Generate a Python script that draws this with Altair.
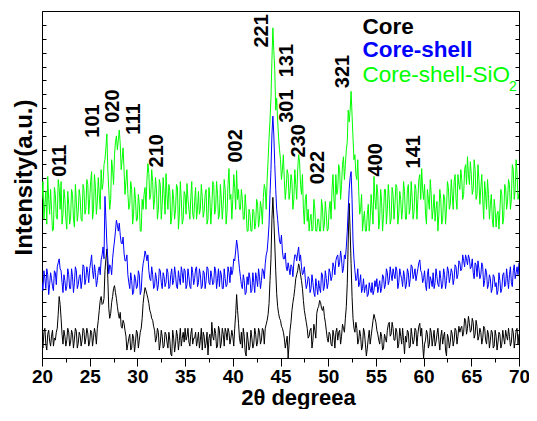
import altair as alt
import pandas as pd

# Intensities (a.u.) read at 20.0, 20.2, ... 70.0 deg 2-theta (one row per degree)
core = [
    18, 26, 14, 24, 17,   22, 12, 18, 30, 62,   40, 14, 22, 18, 26,   16, 24, 19, 27, 15,
    23, 18, 28, 20, 25,   16, 26, 21, 24, 30,   48, 62, 55, 88, 110,  50, 45, 62, 73, 60,
    45, 46, 30, 35, 22,   14, 24, 10, 20, 16,   25, 18, 30, 55, 71,   64, 55, 45, 38, 28,
    20, 26, 15, 22, 12,   24, 10, 18, 2, 20,    14, 22, 18, 12, 26,   30, 22, 16, 24, 14,
    20, 12, 26, 18, 8,    22, 15, 3, 24, 36,    18, 25, 12, 28, 16,   24, 30, 18, 26, 20,
    22, 30, 64, 35, 14,   10, 22, 2, 18, 12,    20, 14, 24, 16, 26,   18, 28, 30, 38, 55,
    100, 162, 115, 65, 45, 38, 30, 20, 16, 0,   28, 48, 62, 80, 88,   91, 78, 58, 42, 30,
    22, 30, 18, 28, 45,   52, 56, 48, 42, 28,   16, 24, 12, 22, 26,   18, 28, 22, 30, 40,
    75, 156, 95, 40, 26,  30, 18, 22, 12, 26,   2, 20, 14, 30, 44,    36, 24, 14, 22, 10,
    20, 28, 36, 24, 30,   18, 26, 14, 22, 30,   4, 16, 26, 12, 22,    18, 28, 24, 35, 30,
    0, 18, 24, 14, 26,    20, 12, 24, 18, 22,   14, 26, 2, 20, 16,    24, 18, 28, 22, 26,
    32, 26, 38, 30, 35,   28, 36, 24, 32, 22,   26, 20, 30, 14, 24,   18, 26, 12, 22, 16,
    24, 14, 20, 28, 18,   22, 16, 26, 18, 30,   24,
]
# Intensities read at 20.1, 20.3, ... 69.9 deg
core_mid = [
    10, 30, 8, 28, 12,    28, 20, 26, 44, 54,   24, 28, 12, 30, 12,   28, 10, 30, 10, 26,
    12, 30, 14, 30, 12,   28, 12, 30, 14, 38,   58, 54, 60, 100, 80,  40, 56, 70, 66, 52,
    40, 32, 38, 28, 8,    20, 8, 24, 6, 28,     10, 26, 40, 64, 68,   60, 48, 40, 32, 16,
    30, 8, 28, 10, 26,    16, 26, 4, 28, 6,     28, 8, 30, 20, 16,    18, 30, 12, 30, 20,
    26, 18, 10, 30, 26,   10, 26, 20, 12, 22,   30, 10, 32, 10, 30,   12, 26, 30, 14, 28,
    12, 44, 48, 20, 26,   30, 6, 26, 8, 28,     10, 30, 12, 30, 14,   30, 14, 34, 44, 78,
    140, 140, 88, 52, 40, 32, 26, 10, 22, 14,   36, 56, 70, 84, 95,   84, 70, 48, 36, 20,
    28, 10, 34, 20, 50,   58, 50, 52, 36, 20,   26, 14, 28, 10, 30,   26, 14, 34, 26, 52,
    118, 128, 62, 30, 36, 14, 28, 8, 30, 14,    10, 28, 22, 38, 40,   28, 18, 26, 8, 24,
    16, 34, 22, 36, 18,   30, 10, 30, 14, 18,   22, 28, 10, 30, 14,   30, 12, 32, 22, 14,
    14, 28, 10, 30, 12,   28, 16, 30, 8, 28,    22, 8, 24, 10, 28,    12, 30, 14, 32, 30,
    22, 40, 24, 42, 26,   40, 20, 38, 18, 30,   14, 32, 18, 28, 10,   28, 10, 28, 8, 26,
    10, 28, 14, 22, 30,   12, 30, 10, 28, 14,
]
core_shell = [
    76, 88, 70, 84, 74,   80, 68, 86, 92, 100,  88, 66, 78, 72, 84,   70, 82, 76, 88, 74,
    84, 78, 92, 80, 86,   90, 104, 80, 86, 78,  92, 99, 112, 163, 115, 85, 92, 100, 118, 139,
    128, 124, 115, 106, 98, 84, 70, 78, 66, 80, 72, 84, 68, 95, 108,  98, 88, 78, 84, 72,
    80, 74, 88, 70, 82,   76, 86, 72, 90, 78,   84, 70, 80, 92, 76,   88, 74, 82, 70, 86,
    80, 92, 76, 84, 72,   86, 78, 90, 74, 82,   76, 88, 80, 72, 84,   70, 80, 74, 86, 92,
    88, 98, 119, 100, 82, 70, 78, 66, 74, 80,   68, 76, 86, 72, 82,   78, 88, 95, 108, 135,
    190, 244, 195, 150, 128, 115, 108, 100, 92, 96, 84, 92, 96, 104, 106, 98, 92, 86, 80, 74,
    80, 70, 76, 62, 72,   78, 66, 84, 72, 80,   76, 86, 82, 92, 98,   104, 96, 100, 90, 100,
    128, 170, 188, 118, 88, 80, 72, 84, 70, 66, 74, 64, 70, 76, 68,   72, 66, 78, 70, 82,
    74, 86, 78, 84, 90,   80, 88, 76, 84, 72,   82, 74, 86, 80, 92,   84, 78, 90, 99, 86,
    80, 74, 84, 70, 78,   86, 76, 82, 72, 80,   74, 84, 78, 88, 82,   86, 80, 92, 84, 96,
    90, 98, 104, 94, 100, 92, 86, 96, 82, 90,   84, 92, 78, 86, 74,   80, 70, 82, 76, 68,
    78, 70, 86, 74, 80,   84, 76, 88, 80, 92,   96,
]
core_shell_mid = [
    68, 80, 90, 64, 86,   72, 88, 74, 96, 90,   76, 84, 68, 90, 70,   90, 66, 92, 70, 82,
    70, 94, 74, 92, 76,   96, 88, 94, 72, 88,   84, 104, 100, 140, 100, 94, 84, 110, 128, 134,
    136, 116, 122, 98, 104, 76, 86, 64, 84, 70, 88, 64, 86, 100, 104, 104, 80, 92, 70, 86,
    68, 90, 76, 86, 72,   90, 70, 84, 74, 92,   72, 88, 74, 86, 90,   70, 90, 72, 92, 74,
    90, 72, 90, 70, 88,   70, 92, 76, 88, 74,   92, 70, 90, 88, 70,   90, 72, 92, 76, 84,
    100, 108, 112, 90, 74, 84, 64, 82, 86, 66,  86, 66, 80, 90, 70,   90, 80, 104, 120, 165,
    225, 225, 170, 140, 118, 124, 100, 106, 88, 90, 94, 82, 104, 98, 112, 104, 84, 92, 70, 82,
    66, 84, 66, 80, 64,   70, 86, 68, 88, 70,   90, 78, 96, 84, 102,  92, 108, 86, 104, 112,
    150, 182, 160, 100, 78, 90, 76, 66, 80, 72, 62, 76, 66, 64, 78,   80, 72, 66, 84, 70,
    90, 74, 92, 78, 84,   92, 70, 90, 80, 88,   70, 90, 72, 94, 80,   90, 84, 96, 88, 76,
    88, 68, 90, 82, 72,   70, 90, 74, 88, 70,   90, 70, 92, 76, 90,   74, 94, 80, 98, 88,
    104, 92, 100, 104, 90, 100, 80, 94, 98, 80, 96, 72, 90, 70, 84,   66, 84, 72, 64, 86,
    66, 84, 72, 90, 70,   92, 72, 94, 86, 84,
]
core_shell_sio2 = [
    160, 140, 168, 183, 145, 150, 130, 165, 140, 172, 178, 145, 160, 130, 155, 142, 165, 132, 158, 148,
    162, 138, 170, 150, 175, 160, 188, 150, 172, 158, 165, 190, 176, 200, 226, 170, 160, 190, 205, 224,
    220, 216, 200, 190, 178, 166, 155, 170, 145, 160, 140, 155, 128, 150, 172, 180, 186, 165, 178, 160,
    170, 150, 175, 155, 165, 186, 150, 168, 142, 160, 150, 172, 145, 160, 140, 165, 176, 150, 162, 145,
    158, 140, 168, 150, 162, 148, 170, 140, 160, 152, 175, 150, 165, 145, 160, 155, 170, 148, 191, 165,
    160, 172, 189, 170, 150, 160, 140, 150, 128, 145, 128, 148, 136, 155, 140, 150, 162, 170, 180, 222,
    262, 333, 290, 262, 222, 200, 190, 180, 172, 185, 168, 178, 160, 175, 190, 198, 165, 150, 160, 138,
    128, 145, 130, 150, 128, 140, 128, 152, 135, 145, 130, 158, 170, 160, 185, 170, 190, 175, 203, 195,
    218, 238, 269, 222, 205, 180, 168, 150, 128, 148, 128, 155, 140, 150, 183, 150, 165, 140, 158, 145,
    170, 150, 160, 140, 165, 155, 172, 145, 160, 150, 168, 140, 175, 152, 162, 148, 170, 160, 185, 191,
    160, 145, 170, 150, 165, 150, 138, 158, 145, 160, 140, 162, 150, 172, 155, 165, 178, 160, 185, 170,
    180, 165, 195, 203, 175, 185, 170, 190, 165, 180, 172, 160, 178, 150, 165, 155, 140, 160, 132, 148,
    150, 165, 142, 172, 158, 175, 160, 190, 170, 185, 166,
]
core_shell_sio2_mid = [
    178, 155, 135, 160, 170, 128, 172, 142, 180, 150, 135, 170, 140, 168, 135, 170, 140, 175, 138, 170,
    140, 175, 145, 180, 145, 178, 140, 185, 145, 182, 150, 170, 195, 212, 190, 150, 200, 175, 218, 210,
    230, 190, 212, 165, 190, 150, 178, 135, 172, 138, 165, 128, 160, 165, 150, 196, 160, 190, 150, 182,
    140, 180, 140, 182, 145, 165, 175, 135, 170, 140, 175, 130, 178, 135, 168, 145, 160, 140, 178, 140,
    172, 150, 145, 175, 142, 165, 135, 172, 135, 178, 145, 178, 140, 175, 140, 180, 135, 175, 160, 140,
    185, 150, 160, 150, 170, 140, 165, 128, 150, 128, 150, 130, 160, 132, 158, 135, 175, 150, 200, 240,
    300, 310, 250, 240, 210, 180, 205, 160, 190, 160, 185, 150, 190, 160, 205, 175, 185, 135, 165, 150,
    140, 128, 160, 128, 140, 128, 160, 128, 158, 128, 150, 140, 185, 150, 165, 195, 160, 195, 180, 210,
    250, 250, 245, 200, 185, 200, 145, 165, 140, 128, 145, 128, 165, 135, 160, 175, 130, 170, 128, 170,
    135, 175, 135, 172, 140, 175, 135, 168, 140, 178, 140, 170, 145, 178, 140, 175, 140, 180, 160, 170,
    175, 135, 160, 180, 140, 165, 150, 128, 170, 135, 165, 135, 178, 150, 180, 150, 185, 150, 175, 190,
    160, 190, 175, 185, 198, 165, 200, 160, 195, 155, 185, 140, 165, 180, 140, 165, 132, 150, 145, 130,
    170, 135, 175, 150, 180, 150, 195, 160, 200, 160,
]

# Miller-index annotations (peak angle, label height in a.u.)
hkl = ["011", "101", "020", "111", "210", "002", "221", "131", "301", "230", "022", "321", "400", "141"]
hkl_x = [21.9, 25.3, 27.4, 29.6, 32.1, 40.3, 43.1, 45.7, 45.7, 46.9, 48.9, 51.6, 55.0, 59.0]
hkl_y = [199, 239, 254, 241, 209, 214, 330, 300, 254, 219, 192, 289, 200, 208]

x_major = [20, 25, 30, 35, 40, 45, 50, 55, 60, 65, 70]
x_minor = [22.5, 27.5, 32.5, 37.5, 42.5, 47.5, 52.5, 57.5, 62.5, 67.5]
y_ticks = list(range(0, 351, 14))

W, H = 477, 347
FONT = "Liberation Sans"
xscale = alt.Scale(domain=[20, 70], nice=False, zero=False)
yscale = alt.Scale(domain=[0, 350], nice=False, zero=False)


def series_df(main, mid):
    th = [round(20 + 0.2 * i, 1) for i in range(len(main))] + [round(20.1 + 0.2 * i, 1) for i in range(len(mid))]
    return pd.DataFrame({"theta": th, "intensity": main + mid}).sort_values("theta")


x_axis = alt.Axis(
    orient="bottom", values=x_major, tickSize=8,
    tickColor="black", tickWidth=1, domain=False, grid=False,
    labelFont=FONT, labelFontSize=19, labelFontWeight="bold", labelColor="black",
    labelPadding=1, labelFlush=False,
    title="2θ degreea", titleFont=FONT, titleFontSize=22, titleFontWeight="bold",
    titleColor="black", titlePadding=1, titleX=256,
)
x_minor_axis = alt.Axis(
    orient="bottom", values=x_minor, tickSize=4, tickColor="black", tickWidth=1,
    labels=False, domain=False, grid=False,
)
y_title_axis = alt.Axis(
    orient="left", labels=False, ticks=False, domain=False, grid=False,
    title="Intensity(a.u.)", titleFont=FONT, titleFontSize=24, titleFontWeight="bold",
    titleColor="black", titlePadding=6, titleY=166,
)
y_ticks_left_edge = alt.Axis(
    orient="right", offset=-W, values=y_ticks, labels=False, domain=False, grid=False,
    ticks=True, tickSize=4, tickColor="black", tickWidth=1,
)
y_ticks_right_edge = alt.Axis(
    orient="left", offset=-W, values=y_ticks, labels=False, domain=False, grid=False,
    ticks=True, tickSize=4, tickColor="black", tickWidth=1,
)

green = alt.Chart(series_df(core_shell_sio2, core_shell_sio2_mid)).mark_line(
    color="#00FF00", strokeWidth=1, clip=True
).encode(
    x=alt.X("theta:Q", scale=xscale, axis=x_axis),
    y=alt.Y("intensity:Q", scale=yscale, axis=y_title_axis),
)
black = alt.Chart(series_df(core, core_mid)).mark_line(color="#000000", strokeWidth=1, clip=True).encode(
    x=alt.X("theta:Q", scale=xscale, axis=x_minor_axis, title=None),
    y=alt.Y("intensity:Q", scale=yscale, axis=y_ticks_left_edge, title=None),
)
blue = alt.Chart(series_df(core_shell, core_shell_mid)).mark_line(
    color="#0000FF", strokeWidth=1, clip=True
).encode(
    x=alt.X("theta:Q", scale=xscale, axis=None),
    y=alt.Y("intensity:Q", scale=yscale, axis=y_ticks_right_edge, title=None),
)

labels = alt.Chart(pd.DataFrame({"hkl": hkl, "x": hkl_x, "y": hkl_y})).mark_text(
    angle=270, align="center", baseline="middle", font=FONT, fontSize=20, fontWeight="bold", color="black"
).encode(
    x=alt.X("x:Q", scale=xscale, axis=None),
    y=alt.Y("y:Q", scale=yscale, axis=None),
    text="hkl:N",
)


def legend_text(label, x, y, color, weight, size):
    return alt.Chart(pd.DataFrame({"t": [label], "x": [x], "y": [y]})).mark_text(
        align="left", baseline="middle", font=FONT, fontSize=size, fontWeight=weight, color=color
    ).encode(
        x=alt.X("x:Q", scale=xscale, axis=None),
        y=alt.Y("y:Q", scale=yscale, axis=None),
        text="t:N",
    )


leg1 = legend_text("Core", 53.6, 334, "#000000", "bold", 22.5)
leg2 = legend_text("Core-shell", 53.6, 311, "#0000FF", "bold", 22.5)
leg3 = legend_text("Core-shell-SiO", 53.6, 285, "#00FF00", "normal", 22.5)
leg3sub = legend_text("2", 68.95, 273, "#00FF00", "normal", 14)

chart = alt.layer(green, black, blue, labels, leg1, leg2, leg3, leg3sub).resolve_axis(
    x="independent", y="independent"
).properties(
    width=W, height=H,
    autosize=alt.AutoSizeParams(type="none"),
    padding={"left": 34, "top": 3, "right": 10, "bottom": 51},
    background="white",
).configure_view(stroke="black", strokeWidth=1)

chart.save("out.html", embed_options={"renderer": "svg", "actions": False})
